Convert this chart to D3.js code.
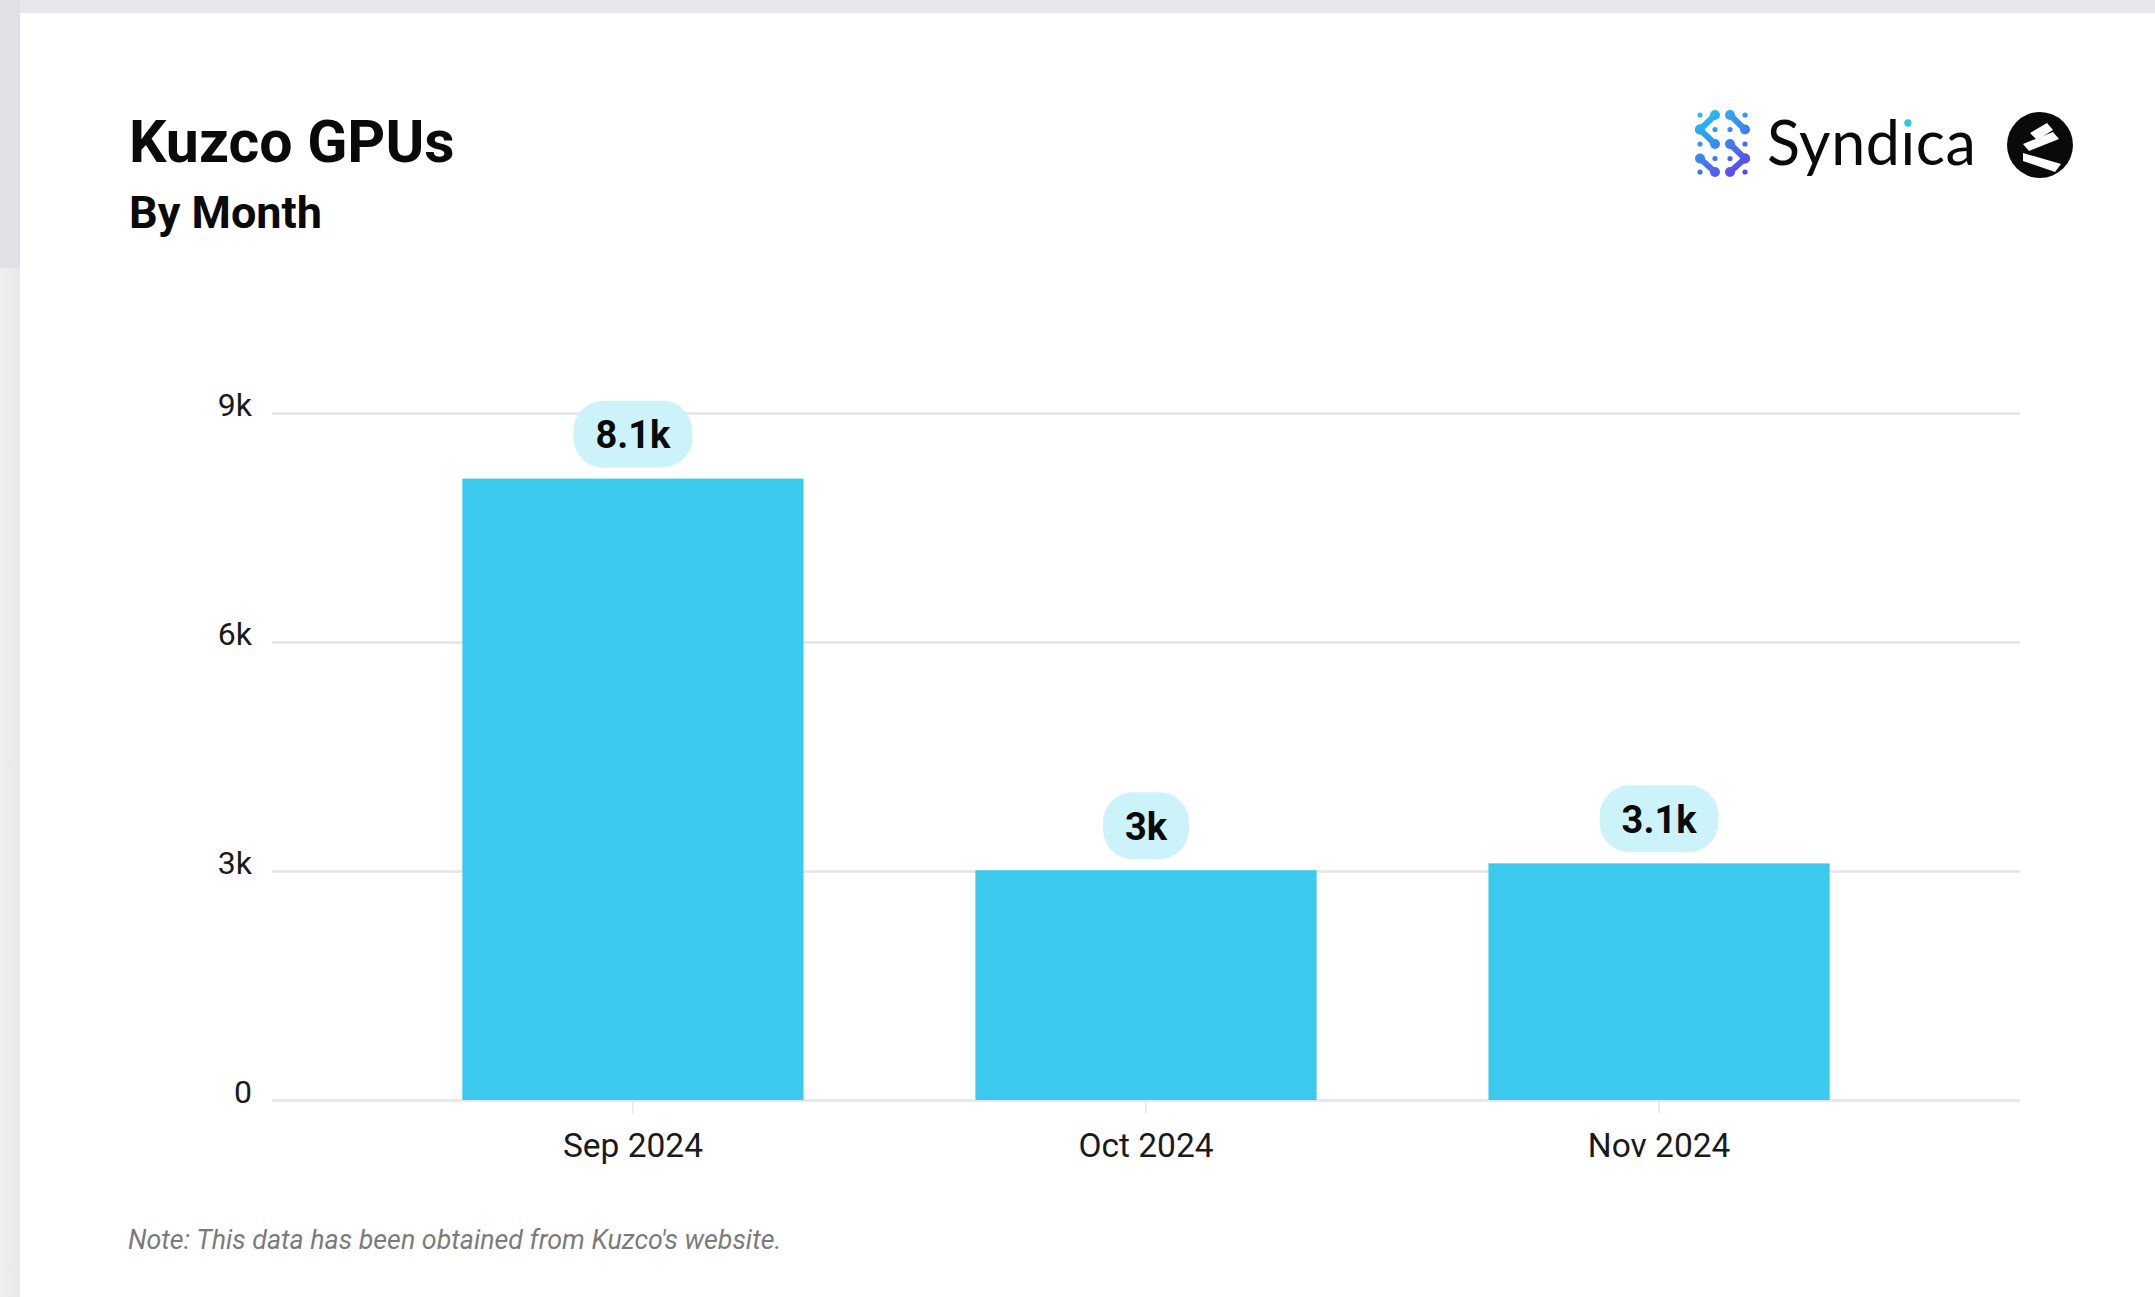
<!DOCTYPE html>
<html>
<head>
<meta charset="utf-8">
<script src="https://cdn.jsdelivr.net/npm/d3@7"></script>
<style>
  html, body { margin: 0; padding: 0; background: #ffffff; }
  svg { display: block; }
</style>
</head>
<body>
<svg id="chart" width="2155" height="1297"></svg>
<script>
// ---- data ----
const categories = ["Sep 2024", "Oct 2024", "Nov 2024"];
const gpuCounts = [8140, 3010, 3100];
const valueLabels = ["8.1k", "3k", "3.1k"];
const yTickValues = [0, 3000, 6000, 9000];
const yTickLabels = ["0", "3k", "6k", "9k"];
const titleText = "Kuzco GPUs";
const subtitleText = "By Month";
const noteText = "Note: This data has been obtained from Kuzco's website.";

// ---- layout ----
const W = 2155, H = 1297;
const plot = { left: 272, right: 2020, top: 413, bottom: 1100 };
const barColor = "#3bcaee";
const pillColor = "#cdf3fa";
const gridColor = "#e4e4e4";

const svg = d3.select("#chart");

// page background pieces
const defs = svg.append("defs");
const lg = defs.append("linearGradient").attr("id", "leftStrip").attr("x1", 0).attr("x2", 1).attr("y1", 0).attr("y2", 0);
lg.append("stop").attr("offset", "0%").attr("stop-color", "#efefef");
lg.append("stop").attr("offset", "100%").attr("stop-color", "#e8e8e8");

svg.append("rect").attr("x", 0).attr("y", 0).attr("width", W).attr("height", H).attr("fill", "#ffffff");
svg.append("rect").attr("x", 0).attr("y", 0).attr("width", W).attr("height", 13).attr("fill", "#e5e7eb");
svg.append("rect").attr("x", 0).attr("y", 0).attr("width", 20).attr("height", 268).attr("fill", "#dfe1e6");
svg.append("rect").attr("x", 0).attr("y", 268).attr("width", 20).attr("height", H - 268).attr("fill", "url(#leftStrip)");

// ---- titles ----
svg.append("text").attr("x", 129).attr("y", 162)
  .attr("font-family", "Roboto, sans-serif").attr("font-weight", 700).attr("font-size", 59)
  .attr("fill", "#0a0a0a").text(titleText);
svg.append("text").attr("x", 129).attr("y", 228)
  .attr("font-family", "Roboto, sans-serif").attr("font-weight", 700).attr("font-size", 45)
  .attr("fill", "#0a0a0a").text(subtitleText);

// ---- scales ----
const x = d3.scaleBand().domain(categories).range([plot.left, plot.right])
  .paddingInner(0.335).paddingOuter(0.371);
const y = d3.scaleLinear().domain([0, 9000]).range([plot.bottom, plot.top]);

// ---- y axis / gridlines ----
const yAxis = d3.axisLeft(y).tickValues(yTickValues)
  .tickFormat((d, i) => yTickLabels[i])
  .tickSize(-(plot.right - plot.left)).tickPadding(20);
const yg = svg.append("g").attr("transform", `translate(${plot.left},0)`).call(yAxis);
yg.select(".domain").remove();
yg.selectAll(".tick line").attr("stroke", gridColor).attr("stroke-width", 2.5);
yg.selectAll(".tick text").attr("font-family", "Roboto, sans-serif").attr("font-size", 32)
  .attr("fill", "#1a1a1a").attr("dy", 2);

// ---- x axis ----
const xAxis = d3.axisBottom(x).tickSize(13).tickPadding(0);
const xg = svg.append("g").attr("transform", `translate(0,${plot.bottom})`).call(xAxis);
xg.select(".domain").remove();
xg.selectAll(".tick line").attr("stroke", "#e6e6e6").attr("stroke-width", 1.5);
xg.selectAll(".tick text").attr("font-family", "Roboto, sans-serif").attr("font-size", 33.5)
  .attr("fill", "#1a1a1a").attr("y", 57).attr("dy", 0);

// ---- bars ----
const rows = categories.map((c, i) => ({ cat: c, v: gpuCounts[i], label: valueLabels[i] }));
svg.append("g").selectAll("rect").data(rows).join("rect")
  .attr("x", d => x(d.cat)).attr("width", x.bandwidth())
  .attr("y", d => y(d.v)).attr("height", d => y(0) - y(d.v))
  .attr("fill", barColor);

// ---- value pills ----
const lab = svg.append("g").selectAll("g").data(rows).join("g");
lab.each(function(d) {
  const g = d3.select(this);
  const cx = x(d.cat) + x.bandwidth() / 2;
  const pillBottom = y(d.v) - 11;
  const pillH = 67;
  const pill = g.append("rect").attr("fill", pillColor);
  const t = g.append("text").attr("x", cx).attr("y", pillBottom - pillH / 2 + 14)
    .attr("text-anchor", "middle")
    .attr("font-family", "Roboto, sans-serif").attr("font-weight", 700).attr("font-size", 38)
    .attr("fill", "#0a0a0a").text(d.label);
  const tw = t.node().getComputedTextLength();
  const pw = tw + 44;
  pill.attr("x", cx - pw / 2).attr("y", pillBottom - pillH).attr("width", pw).attr("height", pillH)
    .attr("rx", 30).attr("ry", 30);
});

// ---- note ----
svg.append("text").attr("x", 128).attr("y", 1249)
  .attr("font-family", "Roboto, sans-serif").attr("font-style", "italic").attr("font-size", 26.8)
  .attr("fill", "#7b7b7b").text(noteText);

// ---- Syndica logo ----
const logo = svg.append("g");
const iconGrad = defs.append("linearGradient").attr("id", "iconGrad")
  .attr("gradientUnits", "userSpaceOnUse").attr("x1", 1697).attr("y1", 110).attr("x2", 1745).attr("y2", 178);
iconGrad.append("stop").attr("offset", "0%").attr("stop-color", "#22c9f2");
iconGrad.append("stop").attr("offset", "50%").attr("stop-color", "#3a86f0");
iconGrad.append("stop").attr("offset", "100%").attr("stop-color", "#6b3ae0");
const colsX = [1700, 1715, 1730, 1745];
const rowsY = [115, 129.5, 144, 158.5, 172];
const dots = [];
rowsY.forEach((ry, r) => colsX.forEach((cxp, c) => dots.push([cxp, ry])));
logo.append("g").selectAll("circle").data(dots).join("circle")
  .attr("cx", d => d[0]).attr("cy", d => d[1]).attr("r", 2.6).attr("fill", "url(#iconGrad)");
const links = [
  [[1, 0], [0, 1]], [[0, 1], [1, 2]], [[2, 0], [3, 1]], [[2, 2], [3, 3]],
  [[0, 3], [1, 4]], [[3, 3], [2, 4]]
];
logo.append("g").selectAll("line").data(links).join("line")
  .attr("x1", d => colsX[d[0][0]]).attr("y1", d => rowsY[d[0][1]])
  .attr("x2", d => colsX[d[1][0]]).attr("y2", d => rowsY[d[1][1]])
  .attr("stroke", "url(#iconGrad)").attr("stroke-width", 6).attr("stroke-linecap", "round");
logo.append("g").selectAll("circle").data(links.flat()).join("circle")
  .attr("cx", d => colsX[d[0]]).attr("cy", d => rowsY[d[1]]).attr("r", 5).attr("fill", "url(#iconGrad)");

const syn = logo.append("text").attr("x", 1767).attr("y", 165)
  .attr("font-family", "Lato, sans-serif").attr("font-size", 61).attr("fill", "#0a0a0a")
  .attr("letter-spacing", 0.6)
  .text("Synd\u0131ca");
const synNode = syn.node();
const iStart = synNode.getStartPositionOfChar(4).x;
const iW = synNode.getSubStringLength(4, 1);
logo.append("circle").attr("cx", iStart + iW / 2 - 0.3).attr("cy", 165 - 42).attr("r", 3.7).attr("fill", "#2fc6ee");

// ---- round emblem ----
const em = logo.append("g").attr("transform", "translate(2040,145)");
em.append("circle").attr("r", 33).attr("fill", "#0a0a0a");
const stripes = [
  [[-10, -12], [7, -22], [13, -15], [-3, -5]],
  [[-17, -1], [13, -13], [19, -6], [-11, 6]],
  [[-17, 8], [-17, 16], [15, 27], [21, 19]]
];
em.selectAll("path").data(stripes).join("path")
  .attr("d", d => d3.line()(d) + "Z").attr("fill", "#ffffff");
</script>
</body>
</html>
